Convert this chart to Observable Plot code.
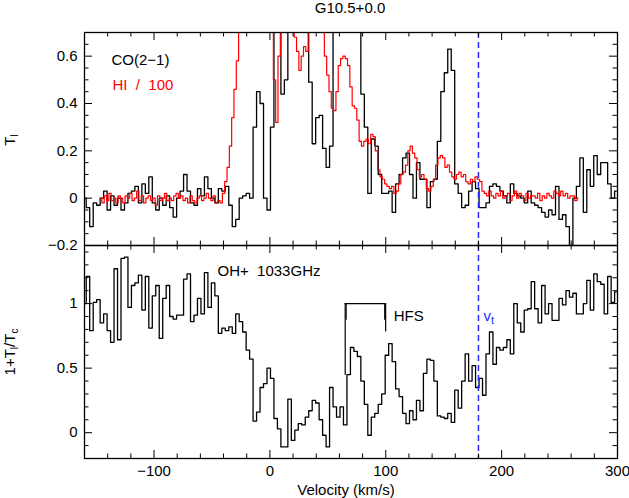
<!DOCTYPE html>
<html><head><meta charset="utf-8">
<script src="https://cdn.jsdelivr.net/npm/d3@7"></script>
<script src="https://cdn.jsdelivr.net/npm/@observablehq/plot@0.6"></script>
<style>
body{margin:0;background:#fff;}
#chart{position:relative;width:629px;height:498px;background:#fff;font-family:"Liberation Sans",Arial,Helvetica,sans-serif;color:#000;overflow:hidden}
.lbl{position:absolute;white-space:nowrap;font-size:15px;line-height:1}
.ylab{transform:translate(-50%,-50%) rotate(-90deg)}
.lbl sub{font-size:10px;vertical-align:-3px;line-height:1}
</style></head><body>
<div id="chart"></div>
<script>
// ---------- text ----------
const titleText = "G10.5+0.0";
const coLabel = "CO(2\u22121)";
const hiLabel = "HI\u00a0\u00a0/\u00a0\u00a0100";
const ohLabel = "OH+\u00a0\u00a01033GHz";
const hfsLabel = "HFS";
const xLabel = "Velocity (km/s)";

// ---------- axes ----------
const xDomain = [-160, 300];
const topYDomain = [-0.2, 0.7];
const botYDomain = [-0.2, 1.45];
const xMajor = [-100, 0, 100, 200, 300];
const xMinor = [-160,-140,-120,-80,-60,-40,-20,20,40,60,80,120,140,160,180,220,240,260,280];
const topYMajor = [-0.2, 0, 0.2, 0.4, 0.6];
const topYMinor = [-0.15,-0.1,-0.05,0.05,0.1,0.15,0.25,0.3,0.35,0.45,0.5,0.55,0.65];
const botYMajor = [0, 0.5, 1];
const botYMinor = [-0.1,0.1,0.2,0.3,0.4,0.6,0.7,0.8,0.9,1.1,1.2,1.3,1.4];

// ---------- velocity marker & HFS ----------
const vt = 180;
const hfsTop = 1.0;
const hfsLegs = [{v: 65, y: 0.445}, {v: 65.8, y: 0.87}, {v: 99.9, y: 0.78}, {v: 99.1, y: 0.87}];
const hfsSpan = [65, 99.9];

// ---------- CO(2-1), channels from -160 km/s every 3 km/s ----------
const coV0 = -160, coDV = 3;
const coT = [
  0.00,-0.04,-0.12,-0.02,-0.03, 0.00, 0.03,-0.05, 0.01,-0.03,   // -160
  0.00,-0.05,-0.02, 0.02, 0.03, 0.05,-0.02, 0.06, 0.02, 0.09,   // -130
 -0.02,-0.05, 0.00,-0.03, 0.01,-0.04,-0.08, 0.00, 0.03, 0.10,   // -100
  0.03,-0.02,-0.03, 0.04, 0.01, 0.09, 0.04, 0.00,-0.02, 0.04,   // -70
  0.03, 0.05,-0.03,-0.12,-0.09, 0.00, 0.01, 0.02, 0.00, 0.30,   // -40
  0.45, 0.40, 0.00,-0.05, 0.30, 0.95, 0.90, 0.44, 0.50, 0.95,   // -10
  1.20, 1.30, 1.10, 1.00, 0.90, 0.49, 0.23, 0.34, 0.35, 0.21,   // 20
  0.13, 0.22, 0.85, 1.00, 1.10, 1.00, 0.90, 0.85, 0.80, 0.75,   // 50
  0.44, 0.30, 0.02, 0.25, 0.22, 0.10, 0.02, 0.02, 0.03,-0.06,   // 80
  0.06, 0.10, 0.17, 0.19, 0.10, 0.00, 0.15, 0.08, 0.08,-0.04,   // 110
  0.07, 0.08, 0.24, 0.45, 0.53, 0.63, 0.54, 0.06, 0.02,-0.04,   // 140
 -0.03, 0.03, 0.07, 0.04,-0.04,-0.04,-0.02, 0.05, 0.06, 0.05,   // 170
  0.03, 0.01,-0.02, 0.06, 0.02, 0.01, 0.00,-0.02, 0.03,-0.02,   // 200
 -0.03,-0.04,-0.06,-0.08,-0.05,-0.07, 0.05,-0.09,-0.07,-0.12,   // 230
 -0.30, 0.00, 0.05, 0.17,-0.06, 0.12, 0.05, 0.18, 0.10, 0.15,   // 260
  0.15, 0.06, 0.00, 0.03                                        // 290
];

// ---------- HI / 100, channels from -146 km/s every 2 km/s ----------
const hiV0 = -146, hiDV = 2;
const hiT = [
  0.00,-0.02, 0.01,-0.01, 0.02,-0.01, 0.00,-0.02, 0.01, 0.00,   // -146
 -0.02, 0.01, 0.00, 0.02,-0.01, 0.00, 0.03,-0.01, 0.01,-0.02,   // -126
  0.00, 0.01,-0.01, 0.00,-0.03, 0.01,-0.01, 0.00, 0.02,-0.01,   // -106
  0.00,-0.01, 0.01, 0.02, 0.00, 0.01,-0.01, 0.00,-0.02, 0.01,   // -86
 -0.01,-0.02, 0.00, 0.01,-0.01, 0.00, 0.02, 0.00,-0.01, 0.01,   // -66
 -0.02,-0.01,-0.02, 0.02, 0.07, 0.13, 0.22, 0.34, 0.46, 0.58,   // -46
  0.70, 0.85, 1.00, 1.20, 1.40, 1.60, 1.80, 2.00, 2.10, 2.20,   // -26
  2.20, 2.10, 1.90, 1.50, 0.90, 0.50, 0.32, 0.60, 1.00, 1.30,   // -6
  1.40, 1.30, 1.10, 0.85, 0.68, 0.62, 0.54, 0.60, 0.64, 0.62,   // 14
  0.75, 0.90, 1.00, 1.00, 0.95, 0.85, 0.72, 0.60, 0.52, 0.45,   // 34
  0.38, 0.37, 0.45, 0.56, 0.59, 0.60, 0.59, 0.56, 0.47, 0.39,   // 54
  0.38, 0.33, 0.24, 0.22, 0.24, 0.25, 0.23, 0.27, 0.26, 0.20,   // 74
  0.12, 0.09, 0.08, 0.06, 0.05, 0.04, 0.05, 0.02, 0.03, 0.06,   // 94
  0.10, 0.11, 0.14, 0.20, 0.22, 0.19, 0.17, 0.12, 0.09, 0.10,   // 114
  0.08, 0.04, 0.03, 0.05, 0.08, 0.14, 0.17, 0.18, 0.17, 0.13,   // 134
  0.14, 0.11, 0.09, 0.08, 0.10, 0.11, 0.09, 0.10, 0.07, 0.06,   // 154
  0.08, 0.07, 0.09, 0.08, 0.07, 0.03, 0.02, 0.01, 0.03, 0.01,   // 174
  0.00, 0.02, 0.01, 0.03, 0.00, 0.01, 0.02,-0.01, 0.01, 0.03,   // 194
  0.00, 0.02, 0.01,-0.01, 0.02, 0.00, 0.01, 0.01, 0.00, 0.02,   // 214
 -0.01, 0.01, 0.00, 0.02, 0.01, 0.00, 0.03, 0.02, 0.01, 0.03,   // 234
  0.01, 0.02, 0.00, 0.01, 0.01,-0.01, 0.00                      // 254
];

// ---------- OH+ 1033 GHz, 1+Tl/Tc, channels from -160 km/s every 3 km/s ----------
const ohV0 = -160, ohDV = 3;
const ohT = [
  1.00, 1.21, 0.79, 1.01, 1.03, 0.85, 0.92, 0.79, 0.70, 1.27,   // -160
  0.72, 1.35, 1.36, 0.97, 1.14, 1.16, 1.22, 0.95, 1.21, 0.81,   // -130
  1.06, 1.14, 0.73, 1.04, 1.14, 0.90, 0.88, 0.91, 0.91, 1.19,   // -100
  1.23, 0.86, 0.91, 1.04, 0.92, 1.24, 0.97, 1.16, 1.06, 0.77,   // -70
  0.81, 0.79, 0.82, 0.77, 0.92, 0.86, 0.78, 0.64, 0.57, 0.09,   // -40
  0.16, 0.35, 0.38, 0.50, 0.42, 0.11, 0.03,-0.11,-0.11, 0.26,   // -10
 -0.06, 0.02, 0.07, 0.06, 0.12, 0.17, 0.25, 0.23, 0.10,-0.02,   // 20
 -0.11, 0.35, 0.20, 0.12, 0.20, 0.06, 0.45, 0.66, 0.63, 0.59,   // 50
  0.40, 0.22,-0.02, 0.12, 0.15, 0.22, 0.30, 0.60, 0.69, 0.55,   // 80
  0.34, 0.28, 0.15, 0.07, 0.17, 0.10, 0.25, 0.17, 0.46, 0.57,   // 110
  0.56, 0.40, 0.13, 0.12, 0.11, 0.15, 0.08, 0.33, 0.19, 0.40,   // 140
  0.61, 0.40, 0.52, 0.35, 0.42, 0.29, 0.61, 0.78, 0.53, 0.66,   // 170
  0.64, 0.66, 0.72, 0.61, 1.00, 0.85, 0.78, 0.95, 0.96, 1.17,   // 200
  0.96, 0.85, 1.14, 0.92, 1.00, 0.87, 0.87, 1.04, 0.99, 1.10,   // 230
  1.05, 1.08, 0.92, 0.92, 1.00, 1.18, 0.95, 1.23, 1.17, 1.15,   // 260
  0.92, 1.21, 1.01, 1.09                                        // 290
];

// ---------- layout ----------
const W = 629, ML = 84, MR = 12, FH = 213, FW = W - ML - MR;
const font = "Liberation Sans, Arial, Helvetica, sans-serif";
const fmt = d => String(d).replace("-", "\u2212");
const blue = "#2b2bff";

function frameTicks(yMajor, yMinor) {
  const s = {stroke: "black", strokeWidth: 1};
  return [
    Plot.tickX(xMajor, {x: d => d, insetTop: FH - 8, ...s}),
    Plot.tickX(xMajor, {x: d => d, insetBottom: FH - 8, ...s}),
    Plot.tickX(xMinor, {x: d => d, insetTop: FH - 4.5, ...s}),
    Plot.tickX(xMinor, {x: d => d, insetBottom: FH - 4.5, ...s}),
    Plot.tickY(yMajor, {y: d => d, insetRight: FW - 8, ...s}),
    Plot.tickY(yMajor, {y: d => d, insetLeft: FW - 8, ...s}),
    Plot.tickY(yMinor, {y: d => d, insetRight: FW - 4.5, ...s}),
    Plot.tickY(yMinor, {y: d => d, insetLeft: FW - 4.5, ...s})
  ];
}

const topPlot = Plot.plot({
  width: W, height: 250, marginTop: 32, marginBottom: 5, marginLeft: ML, marginRight: MR,
  x: {domain: xDomain, axis: null},
  y: {domain: topYDomain},
  style: {background: "transparent", fontFamily: font, fontSize: "15px", overflow: "visible", color: "black"},
  marks: [
    Plot.line(coT, {x: (d, i) => coV0 + i * coDV, y: d => d, curve: "step", stroke: "black", strokeWidth: 1.3, clip: true}),
    Plot.line(hiT, {x: (d, i) => hiV0 + i * hiDV, y: d => d, curve: "step", stroke: "#ff0000", strokeWidth: 1.2, clip: true}),
    Plot.ruleX([vt], {x: d => d, stroke: blue, strokeWidth: 1.5, strokeDasharray: "6,4"}),
    ...frameTicks(topYMajor, topYMinor),
    Plot.frame({stroke: "black", strokeWidth: 1.3}),
    Plot.axisY(topYMajor, {tickSize: 0, tickPadding: 7, label: null, tickFormat: fmt, fontSize: 15}),
    Plot.text([coLabel], {text: d => d, frameAnchor: "top-left", dx: 27, dy: 22, textAnchor: "start", fill: "black", fontSize: 15}),
    Plot.text([hiLabel], {text: d => d, frameAnchor: "top-left", dx: 28, dy: 47, textAnchor: "start", fill: "#ff0000", fontSize: 15})
  ]
});

const botPlot = Plot.plot({
  width: W, height: 258, marginTop: 5, marginBottom: 40, marginLeft: ML, marginRight: MR,
  x: {domain: xDomain},
  y: {domain: botYDomain},
  style: {background: "transparent", fontFamily: font, fontSize: "15px", overflow: "visible", color: "black"},
  marks: [
    Plot.line(ohT, {x: (d, i) => ohV0 + i * ohDV, y: d => d, curve: "step", stroke: "black", strokeWidth: 1.3, clip: true}),
    Plot.ruleX(hfsLegs, {x: "v", y1: hfsTop, y2: "y", stroke: "black", strokeWidth: 1.2}),
    Plot.ruleY([hfsTop], {y: d => d, x1: hfsSpan[0], x2: hfsSpan[1], stroke: "black", strokeWidth: 1.2}),
    Plot.text([hfsLabel], {text: d => d, x: hfsSpan[1], frameAnchor: "top", dy: 65, dx: 8, textAnchor: "start", fontSize: 15}),
    Plot.ruleX([vt], {x: d => d, stroke: blue, strokeWidth: 1.5, strokeDasharray: "6,4"}),
    Plot.text(["v"], {text: d => d, x: vt, frameAnchor: "top", dx: 5, dy: 65, textAnchor: "start", fill: blue, fontSize: 15}),
    Plot.text(["t"], {text: d => d, x: vt, frameAnchor: "top", dx: 12.5, dy: 71, textAnchor: "start", fill: blue, fontSize: 11}),
    ...frameTicks(botYMajor, botYMinor),
    Plot.frame({stroke: "black", strokeWidth: 1.3}),
    Plot.axisY(botYMajor, {tickSize: 0, tickPadding: 7, label: null, tickFormat: fmt, fontSize: 15}),
    Plot.axisX(xMajor, {tickSize: 0, tickPadding: 7, label: null, tickFormat: fmt, fontSize: 15}),
    Plot.text([ohLabel], {text: d => d, frameAnchor: "top-left", dx: 133, dy: 20, textAnchor: "start", fontSize: 15}),
    Plot.text([xLabel], {text: d => d, frameAnchor: "bottom", dx: -5, dy: 36, fontSize: 15})
  ]
});

const chart = document.getElementById("chart");
for (const [svg, top] of [[topPlot, 0], [botPlot, 240]]) {
  svg.style.position = "absolute";
  svg.style.left = "0px";
  svg.style.top = top + "px";
  chart.appendChild(svg);
}

function addLabel(html, left, top, cls) {
  const d = document.createElement("div");
  d.className = "lbl " + (cls || "");
  d.innerHTML = html;
  d.style.left = left + "px";
  d.style.top = top + "px";
  chart.appendChild(d);
  return d;
}
const t = addLabel(titleText, 350, 7, "");
t.style.transform = "translate(-50%,-50%)";
addLabel("T<sub>l</sub>", 11, 140, "ylab");
addLabel("1+T<sub>l</sub>/T<sub>c</sub>", 11, 352, "ylab");
</script></body></html>
